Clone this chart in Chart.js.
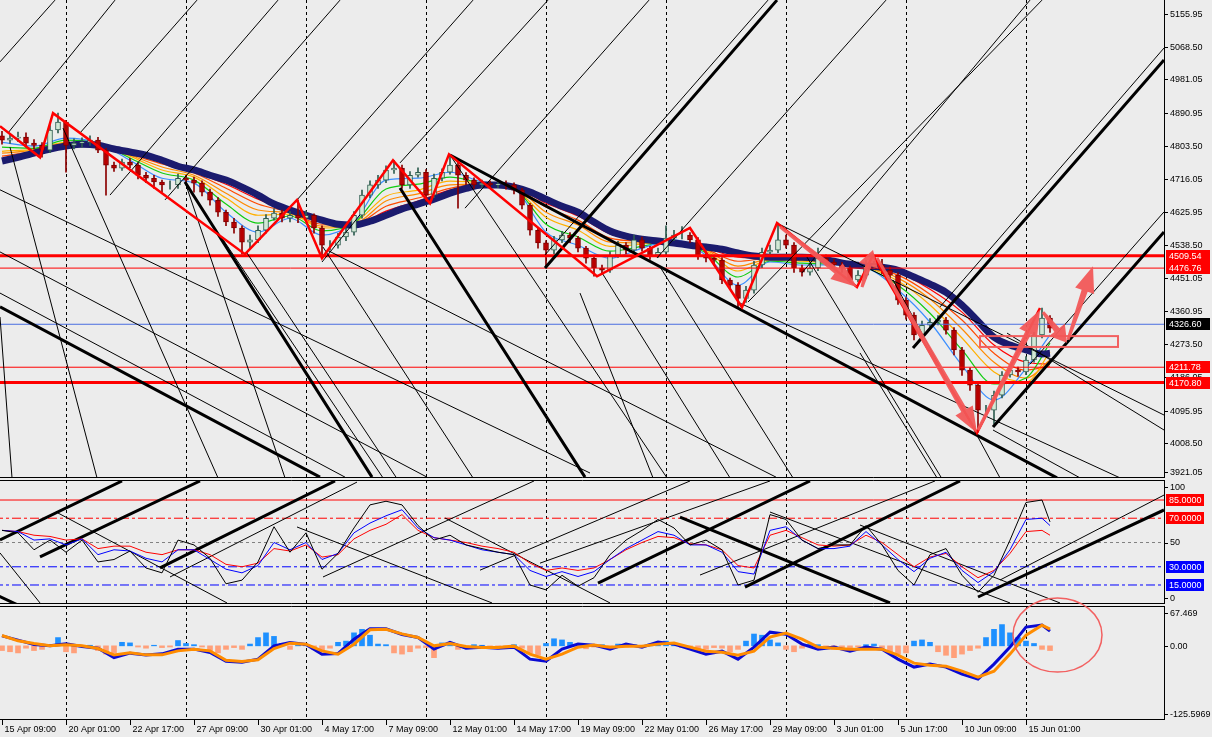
<!DOCTYPE html>
<html>
<head>
<meta charset="utf-8">
<title>Chart</title>
<script src="https://cdn.jsdelivr.net/npm/chart.js@4.4.1/dist/chart.umd.min.js"></script>
<style>
  html, body { margin: 0; padding: 0; background: #ececec; overflow: hidden; }
  #page { position: relative; width: 1212px; height: 737px; background: #ececec; }
  #page canvas { position: absolute; left: 0; }
</style>
</head>
<body>
<div id="page">
  <canvas id="main" width="1212" height="478" style="top:0"></canvas>
  <canvas id="osc" width="1212" height="124" style="top:480px"></canvas>
  <canvas id="macd" width="1212" height="147" style="top:590px"></canvas>
</div>
<script>
// ---- axis texts ----
const timeLabels = ["15 Apr 09:00", "20 Apr 01:00", "22 Apr 17:00", "27 Apr 09:00", "30 Apr 01:00", "4 May 17:00",
  "7 May 09:00", "12 May 01:00", "14 May 17:00", "19 May 09:00", "22 May 01:00", "26 May 17:00", "29 May 09:00",
  "3 Jun 01:00", "5 Jun 17:00", "10 Jun 09:00", "15 Jun 01:00"];
const timeLabelBars = [0, 16, 32, 48, 64, 80, 96, 112, 128, 144, 160, 176, 192, 208, 224, 240, 256];
const gridBars = [16, 46, 76, 106, 136, 166, 196, 226, 256];
const priceTicks = [5155.95, 5068.50, 4981.05, 4890.95, 4803.50, 4716.05, 4625.95, 4538.50, 4451.05, 4360.95,
  4273.50, 4186.05, 4095.95, 4008.50, 3921.05];
const oscTicks = [100, 50, 0];
const oscLevels = [85, 70, 50, 30, 15];
const macdTicks = [67.469, 0, -125.5969];
const macdTickText = ["67.469", "0.00", "-125.5969"];

// ---- price candles (every 2nd bar) ----
const firstOpen = 4830;
const closes = [4819, 4824, 4827, 4811, 4805, 4792, 4846, 4867, 4805, 4811,
  4813, 4819, 4792, 4752, 4744, 4760, 4752, 4725, 4717, 4707,
  4699, 4699, 4717, 4712, 4704, 4680, 4658, 4626, 4600, 4584,
  4546, 4552, 4578, 4610, 4624, 4610, 4618, 4610, 4618, 4584,
  4538, 4538, 4560, 4573, 4618, 4672, 4699, 4712, 4739, 4744,
  4699, 4725, 4733, 4672, 4717, 4733, 4752, 4725, 4712, 4699,
  4704, 4699, 4701, 4699, 4685, 4645, 4578, 4544, 4525, 4552,
  4565, 4557, 4530, 4503, 4477, 4471, 4511, 4538, 4525, 4552,
  4530, 4511, 4519, 4557, 4565, 4565, 4552, 4511, 4503, 4498,
  4445, 4431, 4396, 4418, 4485, 4519, 4525, 4552, 4538, 4477,
  4466, 4477, 4503, 4493, 4485, 4477, 4445, 4458, 4482, 4485,
  4471, 4458, 4391, 4351, 4298, 4324, 4332, 4338, 4311, 4258,
  4204, 4164, 4097, 4097, 4137, 4191, 4204, 4199, 4231, 4298,
  4343, 4316];
const highs = [4842, 4836, 4840, 4838, 4820, 4812, 4858, 4891, 4872, 4822,
  4825, 4830, 4826, 4797, 4760, 4768, 4770, 4758, 4733, 4725,
  4712, 4710, 4728, 4725, 4720, 4710, 4688, 4665, 4632, 4610,
  4590, 4565, 4590, 4620, 4635, 4632, 4628, 4659, 4630, 4622,
  4590, 4550, 4570, 4585, 4628, 4685, 4710, 4725, 4750, 4765,
  4752, 4735, 4745, 4740, 4728, 4742, 4781, 4760, 4732, 4718,
  4712, 4710, 4712, 4710, 4705, 4690, 4650, 4585, 4550, 4562,
  4575, 4572, 4562, 4535, 4510, 4485, 4520, 4548, 4545, 4565,
  4560, 4535, 4530, 4590, 4578, 4588, 4572, 4558, 4518, 4510,
  4505, 4450, 4438, 4428, 4495, 4530, 4538, 4597, 4565, 4545,
  4485, 4490, 4530, 4512, 4500, 4492, 4482, 4470, 4498, 4495,
  4500, 4480, 4465, 4398, 4358, 4335, 4342, 4350, 4345, 4318,
  4265, 4210, 4170, 4110, 4148, 4200, 4215, 4212, 4240, 4305,
  4370, 4350];
const lows = [4808, 4810, 4815, 4800, 4795, 4773, 4785, 4838, 4733, 4795,
  4800, 4805, 4785, 4672, 4735, 4738, 4745, 4715, 4705, 4690,
  4680, 4688, 4690, 4700, 4680, 4670, 4645, 4615, 4590, 4570,
  4514, 4530, 4545, 4570, 4605, 4600, 4600, 4598, 4600, 4570,
  4503, 4525, 4530, 4550, 4565, 4610, 4665, 4690, 4705, 4730,
  4690, 4690, 4720, 4655, 4665, 4710, 4728, 4637, 4700, 4690,
  4692, 4690, 4692, 4688, 4675, 4635, 4565, 4530, 4477, 4515,
  4545, 4545, 4520, 4490, 4455, 4460, 4465, 4505, 4515, 4518,
  4522, 4500, 4505, 4512, 4550, 4555, 4545, 4500, 4493, 4485,
  4435, 4420, 4372, 4385, 4410, 4478, 4512, 4518, 4530, 4465,
  4455, 4458, 4470, 4485, 4475, 4465, 4438, 4440, 4450, 4475,
  4462, 4448, 4380, 4340, 4285, 4290, 4318, 4325, 4300, 4245,
  4190, 4150, 4038, 4080, 4060, 4130, 4185, 4188, 4192, 4225,
  4290, 4305];

// ---- moving averages ----
const navyBars = [0, 4, 8, 12, 16, 20, 24, 28, 32, 36, 40, 44, 48, 52, 56, 60, 64, 68, 72, 76,
  80, 84, 88, 92, 96, 100, 104, 108, 112, 116, 120, 124, 128, 132, 136, 140, 144, 148, 152, 156,
  160, 164, 168, 172, 176, 180, 184, 188, 192, 196, 200, 204, 208, 212, 216, 220, 224, 228, 232, 236,
  240, 244, 248, 252, 256, 260, 262];
const navyMA = [4763, 4773, 4784, 4795, 4803, 4808, 4805, 4795, 4787, 4779,
  4765, 4749, 4739, 4725, 4712, 4693, 4672, 4648, 4632, 4618,
  4605, 4594, 4592, 4602, 4618, 4635, 4648, 4661, 4677, 4690,
  4699, 4699, 4693, 4680, 4661, 4642, 4626, 4600, 4576, 4562,
  4554, 4549, 4544, 4538, 4533, 4527, 4517, 4509, 4506, 4506,
  4506, 4503, 4495, 4487, 4482, 4479, 4471, 4453, 4434, 4412,
  4378, 4335, 4292, 4271, 4258, 4247, 4249];
const maBars = [0, 8, 16, 24, 32, 40, 48, 56, 64, 72, 80, 88, 96, 104, 112, 120, 128,
  136, 144, 152, 160, 168, 176, 184, 192, 200, 208, 216, 224, 232, 240, 248, 256, 262];
const maBlue = [4813, 4803, 4824, 4811, 4765, 4717, 4704, 4626, 4573, 4610, 4565, 4600, 4712, 4717, 4733, 4707, 4690,
  4573, 4538, 4503, 4530, 4552, 4511, 4431, 4493, 4485, 4485, 4477, 4418, 4332, 4217, 4124, 4209, 4298];
const maGreen = [4800, 4797, 4819, 4811, 4771, 4731, 4712, 4648, 4597, 4616, 4576, 4597, 4688, 4701, 4720, 4704, 4690,
  4594, 4560, 4522, 4535, 4549, 4517, 4453, 4495, 4490, 4487, 4477, 4431, 4356, 4258, 4167, 4183, 4276];
const maGold = [4789, 4795, 4813, 4808, 4776, 4739, 4720, 4664, 4618, 4621, 4584, 4597, 4669, 4685, 4709, 4704, 4690,
  4613, 4578, 4535, 4541, 4549, 4522, 4469, 4498, 4495, 4490, 4479, 4442, 4378, 4290, 4199, 4172, 4252];
const maOrange = [4784, 4792, 4811, 4808, 4779, 4747, 4725, 4677, 4632, 4624, 4589, 4594, 4656, 4675, 4699, 4701, 4693,
  4626, 4592, 4546, 4544, 4546, 4525, 4482, 4501, 4498, 4490, 4479, 4450, 4394, 4314, 4225, 4183, 4231];
const maRedOrange = [4776, 4789, 4808, 4805, 4781, 4755, 4731, 4690, 4648, 4626, 4594, 4594, 4642, 4664, 4690, 4701, 4693,
  4640, 4605, 4557, 4549, 4546, 4527, 4495, 4503, 4501, 4493, 4479, 4458, 4407, 4338, 4249, 4204, 4215];
const maRed = [4768, 4787, 4805, 4805, 4784, 4760, 4733, 4701, 4661, 4629, 4600, 4592, 4629, 4656, 4685, 4699, 4693,
  4650, 4616, 4568, 4552, 4544, 4530, 4506, 4503, 4503, 4495, 4482, 4466, 4420, 4359, 4271, 4225, 4220];

// ---- zigzag, levels, drawn objects ----
const zigBars = [-0.5, 9.5, 12.75, 60.75, 73.75, 80, 97.75, 107, 111.75, 148.75, 172, 185, 193.75, 213.75, 217.75, 243.75, 259.5];
const zigPrices = [4856, 4773, 4891, 4514, 4659, 4503, 4765, 4650, 4781, 4455, 4584, 4372, 4597, 4426, 4511, 4036, 4370];
const thickLevels = [4509.54, 4170.80];
const thinLevels = [4476.76, 4211.78];
const bidPrice = 4326.60;
// [bar1, price1, bar2, price2]
const thinUp = [[-0.5, 5028, 13.25, 5193], [1.5, 4838, 28.25, 5193], [19.5, 4838, 48.75, 5193], [27, 4672, 69, 5193],
  [40.75, 4659, 84.5, 5193], [73.75, 4659, 117.75, 5193], [99.5, 4758, 136.5, 5193], [115.75, 4637, 161.75, 5193],
  [135.75, 4512, 191.5, 5193], [163.75, 4504, 221, 5193], [186.5, 4386, 260, 5193], [200, 4464, 257, 5193],
  [234.5, 4373, 290.5, 5065], [257, 4220, 290.5, 4627], [80, 4493, 89.5, 4619]];
const thickUp = [[135.75, 4477, 193.75, 5193], [227.75, 4263, 290.5, 5033], [247.75, 4052, 290.5, 4573]];
const thinDown = [[-0.5, 4686, 147, 3929], [-0.5, 4520, 106.25, 3918], [-0.5, 4410, 85.75, 3918], [2, 4800, 23.75, 3916],
  [-0.5, 4346, 2.5, 3916], [15.25, 4851, 54, 3916], [45.75, 4707, 70.75, 3916], [61.25, 4517, 98.5, 3918],
  [80.25, 4533, 117.75, 3916], [54.5, 4565, 95.25, 3916], [112, 4779, 166.25, 3916], [81.25, 4525, 193.5, 3918],
  [144.5, 4410, 162.75, 3916], [150, 4464, 182, 3916], [164.5, 4480, 197.75, 3916], [193.75, 4597, 290.5, 4084],
  [201.25, 4506, 234.75, 3918], [184.5, 4383, 290.5, 3862], [214.5, 4250, 233.75, 3916], [247.75, 4044, 269.5, 3916],
  [251.25, 4303, 290.5, 4044], [222.75, 4445, 249.5, 3916]];
const thickDown = [[-0.5, 4373, 79.5, 3918], [45.75, 4707, 92.5, 3918], [99.5, 4691, 145.75, 3918], [112, 4779, 263.75, 3916]];
const arrowSegs = [[194.5, 4587, 213.75, 4426], [215, 4426, 217.75, 4525], [218.75, 4504, 243.75, 4036],
  [244, 4044, 259.5, 4365], [260.25, 4359, 266.25, 4277], [266.5, 4285, 272.75, 4482]];
const zoneBox = [244.5, 4295, 279, 4266];

// ---- oscillator panel ----
const oscBlack = [60, 58, 44, 52, 42, 52, 34, 36, 43, 29, 25, 52, 48, 37, 16, 19, 34, 63, 42, 58,
  28, 41, 62, 81, 84, 81, 64, 52, 56, 48, 45, 42, 40, 15, 11, 23, 14, 21, 40, 52,
  60, 69, 62, 48, 52, 44, 15, 19, 73, 69, 52, 45, 48, 48, 64, 48, 27, 15, 40, 45,
  23, 9, 23, 52, 83, 85, 67];
const oscBlue = [60, 59, 52, 53, 48, 53, 40, 44, 43, 37, 34, 44, 44, 36, 28, 25, 31, 50, 44, 50,
  36, 41, 58, 66, 72, 77, 62, 54, 52, 48, 44, 42, 40, 27, 22, 26, 22, 26, 36, 45,
  52, 59, 56, 48, 48, 42, 26, 24, 60, 63, 52, 45, 45, 47, 59, 48, 36, 26, 37, 42,
  27, 17, 26, 44, 69, 70, 64];
const oscRed = [60, 59, 56, 55, 52, 53, 45, 47, 47, 42, 40, 44, 44, 40, 32, 30, 33, 45, 43, 48,
  38, 40, 53, 60, 65, 73, 60, 54, 52, 50, 47, 45, 42, 33, 27, 29, 27, 29, 36, 44,
  50, 55, 54, 49, 48, 44, 31, 29, 56, 60, 54, 48, 47, 48, 56, 50, 40, 30, 38, 41,
  30, 21, 27, 41, 59, 60, 56];
const oscThickUp = [[-0.5, 52.1, 30, 100.7], [9.5, 38.1, 49.5, 100.7], [39.5, 29.1, 83.25, 100.7],
  [149, 16.6, 202, 100.7], [185.75, 13.3, 239.5, 100.7], [244, 5.1, 290.5, 76.8]];
const oscThinUp = [[42, 21.6, 88.75, 99.8], [80.25, 21.6, 133, 100.7], [119.5, 27.2, 172, 100.7],
  [134.5, 33, 192, 100.7], [174.5, 23.2, 233.25, 100.7], [249.5, 19.1, 290.5, 89.1]];
const oscThinDown = [[-0.5, 41.4, 9.5, 0.2], [14, 74.3, 56.25, 0.2], [73.75, 62.8, 122.5, 0.2],
  [110.75, 70.2, 152, 0.2], [192, 75.1, 252, 0.2], [214.5, 64.4, 264.5, 0.2]];
const oscThickDown = [[-3, 9.2, 4.5, -2.3], [169.5, 71, 222, 0.2]];

// ---- MACD panel ----
const macdMain = [16.9, 9.6, 2.3, 0, 3.4, -1.1, -4, -19.8, -12.4, -15.3, -13.6, -5.6, -5.6, -11.3, -26, -27.7, -22.6, 0, 5.7, 2.3,
  -14.1, -13, 11.3, 28.8, 28.8, 19.2, 14.1, -5.6, 5.7, -4, -2.3, -4, -2.2, -22.5, -26, -5.6, 2.9, 1.2, -5.6, 2.9,
  -2.2, 6.3, 2.9, -5.6, -14, -9, -22.5, -2.2, 23.2, 19.8, 2.9, -5.6, -2.2, -9, -2.2, -5.6, -22.5, -36, -31, -36,
  -48, -56.4, -31, -2.2, 31.7, 35.1, 24.9];
const macdSignal = [17.5, 8.5, 3.9, 0, 1.7, 0, -4.5, -15.3, -11.9, -15.3, -15.3, -8.5, -5.6, -8.5, -24.3, -26.5, -23.7, -4.5, 4.5, 2.8,
  -8.5, -14.1, 2.8, 27.1, 28.2, 20.3, 14.1, 0, 4, -1.1, -2.8, -2.8, -0.5, -14, -22.5, -14, -2.2, 1.2, -2.2, -0.5,
  -0.5, 2.9, 4.6, -2.2, -9, -10.7, -15.8, -9, 14.7, 21.5, 11.3, -2.2, -3.9, -5.6, -5.6, -5.6, -15.8, -29.3, -32.7, -34.4,
  -42.9, -53, -42.9, -14, 18.1, 35.1, 28.3];
const macdHist = [-8, -10, -12, -4, -8, -6, 2, 14, -10, -12, -1, 1, -8, -14, -12, 6, 5, -2, -4, 1,
  -3, -2, 9, 4, 2, -2, -8, -12, -6, -3, -6, 3, 14, 22, 16, 4, -6, 2, 1, -6,
  -8, -4, 6, 8, 22, 28, 18, 3, 2, -12, -14, -10, -4, -3, -20, 5, 4, -6, -4, 2,
  1, -2, -2, -3, 2, -4, -12, -16, 4, 12, 10, 6, -3, -5, -2, 2, -4, 3, -2, 2,
  -3, 3, 6, 8, 4, -3, -5, -8, -6, -3, -4, -10, -6, 8, 20, 18, 10, 5, -6, -10,
  -4, 3, 2, -2, -6, -4, -3, -2, 2, 3, -6, -10, -14, -12, 8, 10, 6, -10, -16, -20,
  -14, -8, -4, 14, 28, 36, 22, 14, 8, 4, -6, -8];
const ellipseBox = [252.75, 81, 275, -44.4];

// ---- helpers ----
const FONT = '9px "Liberation Sans", Arial, sans-serif';
const SALMON = 'rgba(242, 88, 88, 0.95)';
const pts = (xs, ys) => xs.map((x, i) => ({ x: x, y: ys[i] }));
function segs(list) {
  const out = [];
  list.forEach(s => { out.push({ x: s[0], y: s[1] }, { x: s[2], y: s[3] }, { x: s[2], y: null }); });
  return out;
}
const hseg = v => [-2, v, 293, v];
function lineDs(data, color, width, order, extra) {
  return Object.assign({ type: 'line', data: data, borderColor: color, borderWidth: width, pointRadius: 0,
    fill: false, order: order, spanGaps: false }, extra || {});
}

function baseOptions(yMin, yMax, padTop, padBottom) {
  return {
    responsive: false, animation: false, devicePixelRatio: 1, events: [],
    layout: { padding: { left: 0, right: 48, top: padTop, bottom: padBottom } },
    plugins: { legend: { display: false }, tooltip: { enabled: false } },
    scales: {
      x: { type: 'linear', min: -0.5, max: 290.5, display: false, offset: false },
      y: { type: 'linear', min: yMin, max: yMax, display: false }
    }
  };
}

// grid, frame and right-hand price scale of one panel
function panelPlugin(cfg) {
  return {
    id: 'panel',
    beforeDatasetsDraw(chart) {
      const ctx = chart.ctx, a = chart.chartArea, x = chart.scales.x;
      ctx.save();
      ctx.strokeStyle = '#000';
      ctx.lineWidth = 1;
      ctx.setLineDash([3, 3]);
      gridBars.forEach(b => {
        const px = Math.round(x.getPixelForValue(b)) + 0.5;
        ctx.beginPath(); ctx.moveTo(px, a.top); ctx.lineTo(px, a.bottom); ctx.stroke();
      });
      ctx.restore();
    },
    afterDraw(chart) {
      const ctx = chart.ctx, a = chart.chartArea, y = chart.scales.y;
      ctx.save();
      ctx.strokeStyle = '#000';
      ctx.lineWidth = 1;
      ctx.beginPath();
      ctx.moveTo(a.right + 0.5, a.top); ctx.lineTo(a.right + 0.5, a.bottom);
      if (cfg.frameTop) { ctx.moveTo(0, a.top + 0.5); ctx.lineTo(a.right + 1, a.top + 0.5); }
      ctx.moveTo(0, a.bottom - 0.5); ctx.lineTo(a.right + 1, a.bottom - 0.5);
      ctx.stroke();
      ctx.font = FONT;
      ctx.textBaseline = 'middle';
      ctx.textAlign = 'left';
      const place = v => Math.min(Math.max(y.getPixelForValue(v), a.top + 7), a.bottom - 6);
      cfg.ticks.forEach((v, i) => {
        const py = place(v);
        ctx.fillStyle = '#000';
        ctx.beginPath(); ctx.moveTo(a.right, Math.round(py) + 0.5); ctx.lineTo(a.right + 4, Math.round(py) + 0.5); ctx.stroke();
        ctx.fillText(cfg.text ? cfg.text[i] : v.toFixed(cfg.digits), a.right + 6, py + 0.5);
      });
      (cfg.boxes || []).forEach(bx => {
        const py = Math.round(place(bx[0]));
        ctx.fillStyle = bx[1];
        ctx.fillRect(a.right + 2, py - 6, cfg.boxW, 12);
        ctx.fillStyle = '#fff';
        ctx.fillText(bx[0].toFixed(cfg.boxDigits), a.right + 5, py + 0.5);
      });
      if (cfg.after) cfg.after(chart);
      ctx.restore();
    }
  };
}

function drawArrow(ctx, x1, y1, x2, y2) {
  const ang = Math.atan2(y2 - y1, x2 - x1), len = Math.hypot(x2 - x1, y2 - y1);
  const head = Math.min(26, len * 0.42), hw = 10;
  ctx.save();
  ctx.translate(x1, y1); ctx.rotate(ang);
  ctx.beginPath();
  ctx.moveTo(0, -1.5); ctx.lineTo(len - head, -3.2); ctx.lineTo(len - head, -hw); ctx.lineTo(len, 0);
  ctx.lineTo(len - head, hw); ctx.lineTo(len - head, 3.2); ctx.lineTo(0, 1.5); ctx.closePath();
  ctx.fill();
  ctx.restore();
}

// ---- main price panel ----
const opens = closes.map((c, i) => i === 0 ? firstOpen : closes[i - 1]);
const candleX = closes.map((c, i) => i * 2);
const bull = closes.map((c, i) => c >= opens[i]);

const mainOpts = baseOptions(3915.7, 5193.37, 0, 0);
new Chart(document.getElementById('main'), {
  type: 'line',
  data: { datasets: [
    lineDs(pts(zigBars, zigPrices), '#ff0000', 2.5, 1),
    lineDs(segs(thinUp.concat(thinDown)), '#000000', 1, 2),
    lineDs(segs(thickUp.concat(thickDown)), '#000000', 3, 2),
    lineDs(segs(thickLevels.map(hseg)), '#ff0000', 3, 3),
    lineDs(segs(thinLevels.map(hseg)), '#ff0000', 1, 3),
    lineDs(segs([hseg(bidPrice)]), '#4a6ee0', 1, 3),
    { type: 'bar', data: candleX.map((x, i) => ({ x: x, y: [opens[i], closes[i]] })),
      backgroundColor: bull.map(b => b ? '#d2e8d5' : '#b80000'),
      borderColor: bull.map(b => b ? '#2f5d50' : '#7d0000'),
      borderWidth: 1, borderSkipped: false, barThickness: 5, grouped: false, order: 4 },
    { type: 'bar', data: candleX.map((x, i) => ({ x: x, y: [lows[i], highs[i]] })),
      backgroundColor: bull.map(b => b ? '#2f5d50' : '#8b0000'),
      barThickness: 1, grouped: false, order: 5 },
    lineDs(pts(navyBars, navyMA), '#1b1b6e', 7, 6, { cubicInterpolationMode: 'monotone' }),
    lineDs(pts(maBars, maBlue), '#3a8eff', 1.2, 7, { cubicInterpolationMode: 'monotone' }),
    lineDs(pts(maBars, maGreen), '#10cc10', 1.2, 8, { cubicInterpolationMode: 'monotone' }),
    lineDs(pts(maBars, maGold), '#ffb000', 1.2, 9, { cubicInterpolationMode: 'monotone' }),
    lineDs(pts(maBars, maOrange), '#ff8a00', 1.2, 10, { cubicInterpolationMode: 'monotone' }),
    lineDs(pts(maBars, maRedOrange), '#ff4a00', 1.2, 11, { cubicInterpolationMode: 'monotone' }),
    lineDs(pts(maBars, maRed), '#ff0000', 1.2, 12, { cubicInterpolationMode: 'monotone' })
  ] },
  options: mainOpts,
  plugins: [
    {
      id: 'arrows',
      afterDatasetsDraw(chart) {
        const ctx = chart.ctx, x = chart.scales.x, y = chart.scales.y;
        ctx.save();
        ctx.fillStyle = SALMON;
        arrowSegs.forEach(s => drawArrow(ctx, x.getPixelForValue(s[0]), y.getPixelForValue(s[1]),
          x.getPixelForValue(s[2]), y.getPixelForValue(s[3])));
        ctx.strokeStyle = SALMON;
        ctx.lineWidth = 2;
        const bx1 = x.getPixelForValue(zoneBox[0]), by1 = y.getPixelForValue(zoneBox[1]);
        const bx2 = x.getPixelForValue(zoneBox[2]), by2 = y.getPixelForValue(zoneBox[3]);
        ctx.strokeRect(bx1, by1, bx2 - bx1, by2 - by1);
        ctx.restore();
      }
    },
    panelPlugin({ ticks: priceTicks, digits: 2, frameTop: false, boxW: 44, boxDigits: 2,
      boxes: [[4509.54, '#ff0000'], [4476.76, '#ff0000'], [4326.60, '#000000'], [4211.78, '#ff0000'], [4170.80, '#ff0000']] })
  ]
});

// ---- oscillator panel ----
const oscOpts = baseOptions(-0.66, 101.5, 0, 0);
new Chart(document.getElementById('osc'), {
  type: 'line',
  data: { datasets: [
    lineDs(pts(navyBars, oscBlack), '#000000', 1, 1),
    lineDs(pts(navyBars, oscBlue), '#0000ff', 1, 2),
    lineDs(pts(navyBars, oscRed), '#ff0000', 1, 3),
    lineDs(segs(oscThinUp.concat(oscThinDown)), '#000000', 1, 4),
    lineDs(segs(oscThickUp.concat(oscThickDown)), '#000000', 3, 4),
    lineDs(segs([hseg(oscLevels[0])]), '#ff0000', 1, 5),
    lineDs(segs([hseg(oscLevels[1])]), '#ff0000', 1, 5, { borderDash: [9, 3, 3, 3] }),
    lineDs(segs([hseg(oscLevels[2])]), '#808080', 1, 5, { borderDash: [3, 3] }),
    lineDs(segs([hseg(oscLevels[3]), hseg(oscLevels[4])]), '#0000ff', 1, 5, { borderDash: [9, 3, 3, 3] })
  ] },
  options: oscOpts,
  plugins: [panelPlugin({ ticks: oscTicks, digits: 0, frameTop: true, boxW: 38, boxDigits: 4,
    boxes: [[85, '#ff0000'], [70, '#ff0000'], [30, '#0000ff'], [15, '#0000ff']] })]
});

// ---- MACD panel with time axis ----
const histX = macdHist.map((v, i) => i * 2);
const macdOpts = baseOptions(-125.5969, 67.469, 16, 17);
new Chart(document.getElementById('macd'), {
  type: 'line',
  data: { datasets: [
    lineDs(pts(navyBars, macdSignal), '#ff8c00', 3, 1),
    lineDs(pts(navyBars, macdMain), '#0a0ad2', 3, 2),
    { type: 'bar', data: histX.map((x, i) => ({ x: x, y: macdHist[i] })),
      backgroundColor: macdHist.map(v => v >= 0 ? '#1e90ff' : '#ffa07a'),
      barThickness: 5, grouped: false, order: 3 }
  ] },
  options: macdOpts,
  plugins: [panelPlugin({ ticks: macdTicks, text: macdTickText, frameTop: true,
    after(chart) {
      const ctx = chart.ctx, a = chart.chartArea, x = chart.scales.x, y = chart.scales.y;
      ctx.fillStyle = '#000';
      ctx.textBaseline = 'middle';
      timeLabels.forEach((t, i) => {
        const px = Math.round(x.getPixelForValue(timeLabelBars[i])) + 0.5;
        ctx.beginPath(); ctx.moveTo(px, a.bottom); ctx.lineTo(px, a.bottom + 5); ctx.stroke();
        ctx.fillText(t, px + 2, a.bottom + 10);
      });
      const ex1 = x.getPixelForValue(ellipseBox[0]), ey1 = y.getPixelForValue(ellipseBox[1]);
      const ex2 = x.getPixelForValue(ellipseBox[2]), ey2 = y.getPixelForValue(ellipseBox[3]);
      ctx.strokeStyle = SALMON;
      ctx.lineWidth = 1.5;
      ctx.beginPath();
      ctx.ellipse((ex1 + ex2) / 2, (ey1 + ey2) / 2, (ex2 - ex1) / 2, (ey2 - ey1) / 2, 0, 0, Math.PI * 2);
      ctx.stroke();
    } })]
});
</script>
</body>
</html>
